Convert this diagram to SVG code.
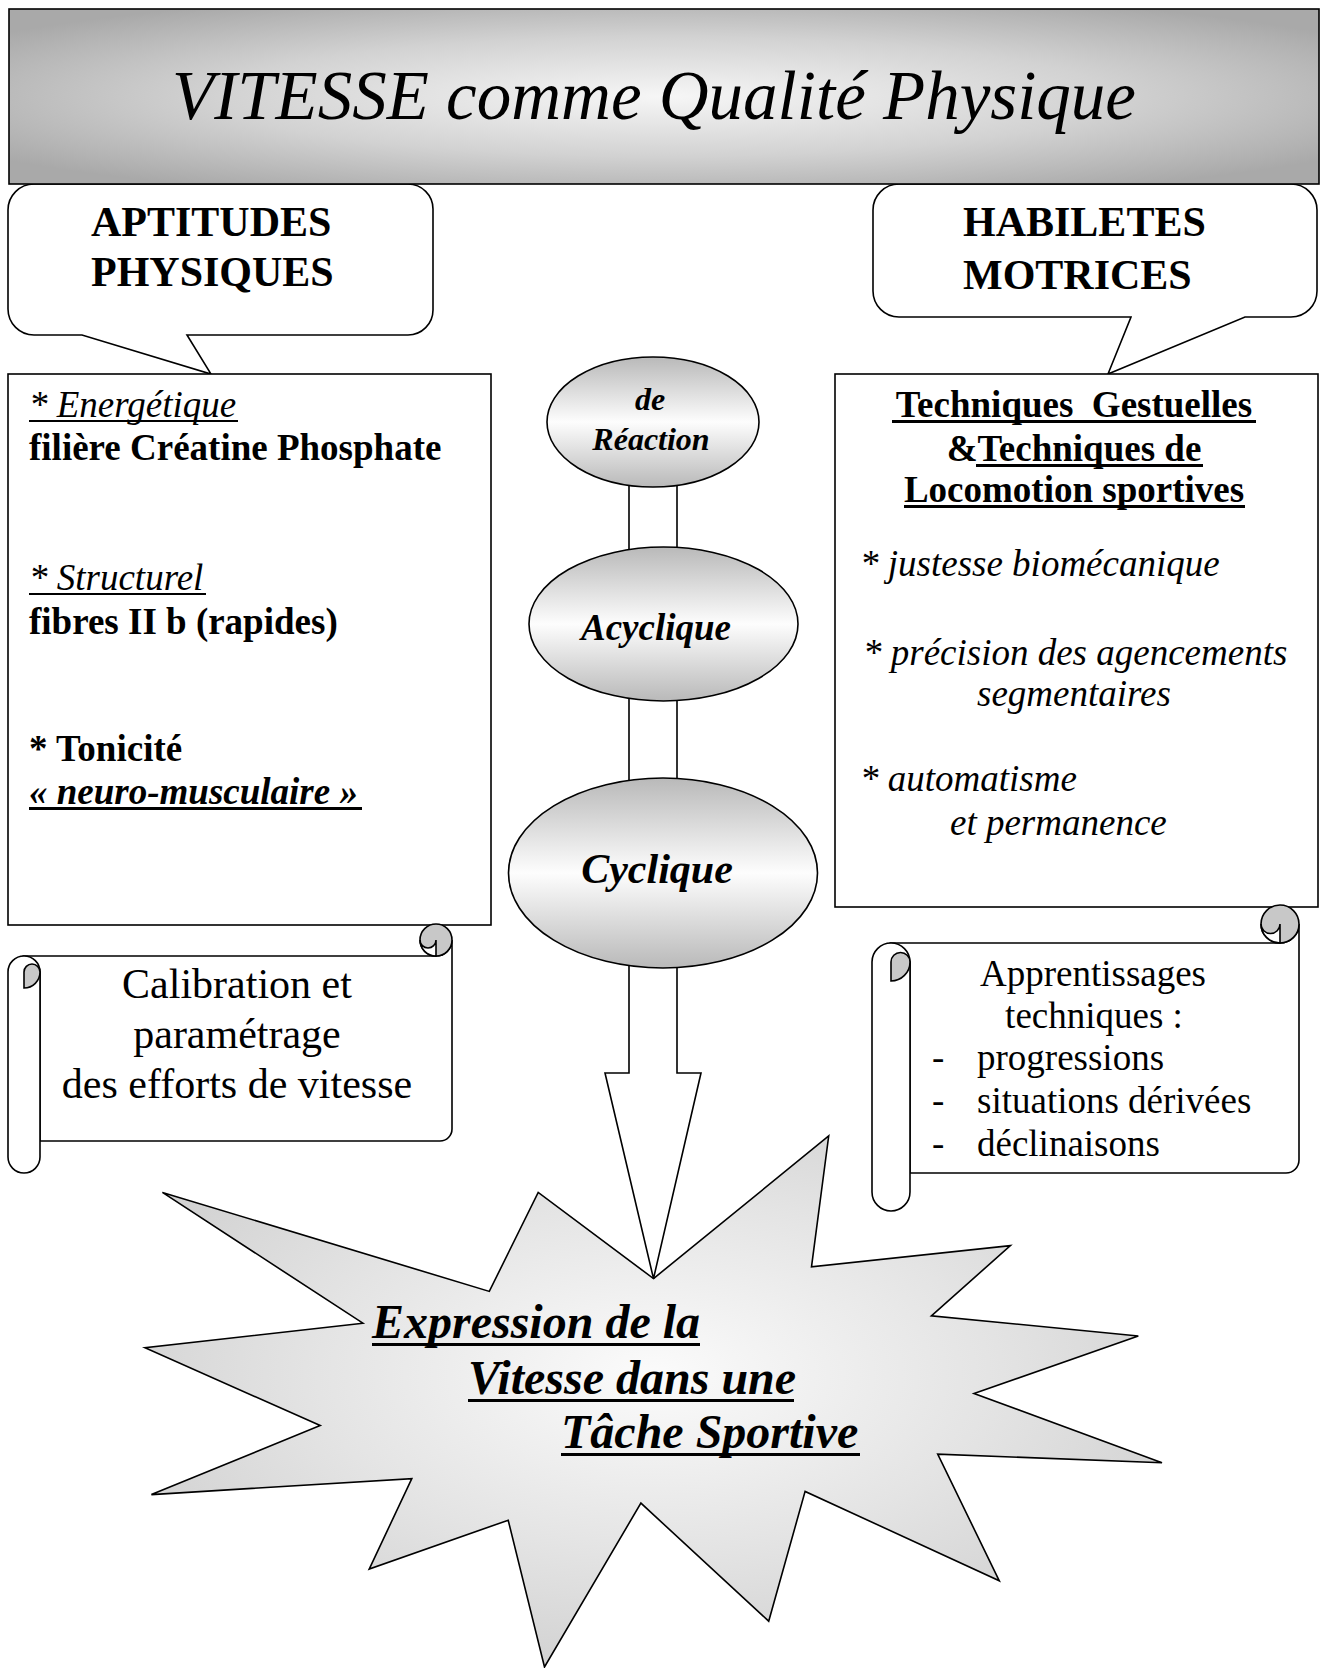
<svg xmlns="http://www.w3.org/2000/svg" width="1325" height="1668" viewBox="0 0 1325 1668">
  <defs>
    <radialGradient id="gTitle" cx="0.5" cy="0.5" r="0.62">
      <stop offset="0" stop-color="#f6f6f6"/>
      <stop offset="0.55" stop-color="#d2d2d2"/>
      <stop offset="1" stop-color="#a9a9a9"/>
    </radialGradient>
    <linearGradient id="gOval" x1="0" y1="0" x2="0" y2="1">
      <stop offset="0" stop-color="#b9b9b9"/>
      <stop offset="0.5" stop-color="#fdfdfd"/>
      <stop offset="1" stop-color="#b9b9b9"/>
    </linearGradient>
    <radialGradient id="gStar" cx="0.5" cy="0.45" r="0.55">
      <stop offset="0" stop-color="#fbfbfb"/>
      <stop offset="0.6" stop-color="#e4e4e4"/>
      <stop offset="1" stop-color="#d3d3d3"/>
    </radialGradient>
    <style>
      .ln { stroke: #000; stroke-width: 1.6; fill: #fff; stroke-linejoin: miter; }
      .curl { stroke: #000; stroke-width: 1.6; fill: #c8c8c8; }
      .t { font-family: "Liberation Serif", "Times New Roman", serif; fill: #000; }
      .b { font-weight: bold; }
      .i { font-style: italic; }
      .s37 { font-size: 37px; }
      .s42 { font-size: 42px; }
      .mid { text-anchor: middle; }
      .ul { fill: #000; }
    </style>
  </defs>

  <!-- speech bubbles (drawn under the title banner) -->
  <g id="bubble-aptitudes">
    <path class="ln" d="M34,184 L408,184 A25,25 0 0 1 433,209 L433,310 A25,25 0 0 1 408,335 L187,335 L211,374 L82,335 L34,335 A26,26 0 0 1 8,309 L8,210 A26,26 0 0 1 34,184 Z"/>
    <text class="t b s42" x="91" y="236">APTITUDES</text>
    <text class="t b s42" x="91" y="286">PHYSIQUES</text>
  </g>
  <g id="bubble-habiletes">
    <path class="ln" d="M899,184 L1291,184 A26,26 0 0 1 1317,210 L1317,291 A26,26 0 0 1 1291,317 L1245,317 L1108,374 L1131,317 L899,317 A26,26 0 0 1 873,291 L873,210 A26,26 0 0 1 899,184 Z"/>
    <text class="t b s42" x="963" y="236">HABILETES</text>
    <text class="t b s42" x="963" y="289">MOTRICES</text>
  </g>

  <!-- title banner -->
  <g id="title">
    <rect x="9" y="9" width="1310" height="175" fill="url(#gTitle)" stroke="#000" stroke-width="1.6"/>
    <text class="t i mid" x="654" y="119" font-size="69">VITESSE comme Qualité Physique</text>
  </g>

  <!-- physical aptitudes box -->
  <g id="box-aptitudes">
    <rect class="ln" x="8" y="374" width="483" height="551"/>
    <text class="t i s37" x="29" y="417">* Energétique</text>
    <rect class="ul" x="29" y="420" width="209" height="2"/>
    <text class="t b s37" x="29" y="460">filière Créatine Phosphate</text>
    <text class="t i s37" x="29" y="590">* Structurel</text>
    <rect class="ul" x="29" y="593" width="177" height="2"/>
    <text class="t b s37" x="29" y="634">fibres II b (rapides)</text>
    <text class="t b s37" x="29" y="761">* Tonicité</text>
    <text class="t b i s37" x="29" y="804">« neuro-musculaire »</text>
    <rect class="ul" x="29" y="807" width="333" height="3"/>
  </g>

  <!-- motor skills box -->
  <g id="box-habiletes">
    <rect class="ln" x="835" y="374" width="483" height="533"/>
    <text class="t b s37 mid" x="1074" y="417">Techniques&#160; Gestuelles</text>
    <rect class="ul" x="892" y="420" width="364" height="3"/>
    <text class="t b s37 mid" x="1074" y="461">&amp;Techniques de</text>
    <rect class="ul" x="976" y="464" width="227" height="3"/>
    <text class="t b s37 mid" x="1074" y="502">Locomotion sportives</text>
    <rect class="ul" x="904" y="505" width="341" height="3"/>
    <text class="t i s37" x="860" y="576">* justesse biomécanique</text>
    <text class="t i s37" x="863" y="665">* précision des agencements</text>
    <text class="t i s37" x="977" y="706">segmentaires</text>
    <text class="t i s37" x="860" y="791">* automatisme</text>
    <text class="t i s37" x="950" y="835">et permanence</text>
  </g>

  <!-- connectors between the speed ovals and the arrow to the star -->
  <g id="connectors">
    <rect class="ln" x="629" y="470" width="48" height="90"/>
    <rect class="ln" x="629" y="690" width="48" height="100"/>
  </g>

  <!-- bursting star -->
  <g id="star-expression">
    <polygon class="ln" fill="url(#gStar)" style="fill:url(#gStar)" points="653.5,1278.6 828.7,1136 811.5,1266.9 1010.4,1245.6 931.4,1315.8 1138.3,1336 974,1393.5 1162,1462.7 937.7,1454.2 999.3,1580.8 805.1,1491.4 768.7,1621.2 640.9,1503.1 544.5,1667 508.2,1520.2 369.2,1569.1 411.8,1478.6 151.4,1494.6 320.2,1425.5 145,1347.8 362.9,1323.2 162.4,1192.4 489.3,1291.4 538.2,1192.4"/>
    <text class="t b i" font-size="48" x="372" y="1338">Expression de la</text>
    <rect class="ul" x="372" y="1343" width="328" height="3"/>
    <text class="t b i" font-size="48" x="468" y="1394">Vitesse dans une</text>
    <rect class="ul" x="468" y="1399" width="326" height="3"/>
    <text class="t b i" font-size="48" x="561" y="1448">Tâche Sportive</text>
    <rect class="ul" x="561" y="1453" width="299" height="3"/>
  </g>

  <g id="arrow-down">
    <path class="ln" d="M629,950 L629,1073 L605,1073 L653.5,1278.6 L701,1073 L677,1073 L677,950 Z"/>
  </g>

  <!-- speed ovals -->
  <g id="oval-reaction">
    <ellipse class="ln" style="fill:url(#gOval)" cx="653" cy="422" rx="106" ry="65"/>
    <text class="t b i mid" font-size="32" x="650" y="410">de</text>
    <text class="t b i mid" font-size="32" x="651" y="450">Réaction</text>
  </g>
  <g id="oval-acyclique">
    <ellipse class="ln" style="fill:url(#gOval)" cx="663.5" cy="624" rx="134.5" ry="77"/>
    <text class="t b i mid" font-size="37" x="656" y="640">Acyclique</text>
  </g>
  <g id="oval-cyclique">
    <ellipse class="ln" style="fill:url(#gOval)" cx="663" cy="873" rx="154.5" ry="95"/>
    <text class="t b i mid" font-size="42" x="657" y="883">Cyclique</text>
  </g>

  <!-- left scroll -->
  <g id="scroll-calibration">
    <path class="ln" d="M24,956 L436,956 A16,16 0 0 0 452,940 L452,1129 A12,12 0 0 1 440,1141 L40,1141 L40,972 Z"/>
    <circle class="curl" cx="436" cy="940" r="16"/>
    <path class="ln" d="M436,956 L436,940 A8,8 0 0 1 420,940 A16,16 0 0 0 436,956 Z"/>
    <path class="ln" d="M8,972 A16,16 0 0 1 40,972 L40,1157 A16,16 0 0 1 8,1157 Z"/>
    <path class="curl" d="M24,988 L24,972 A8,8 0 0 1 40,972 A16,16 0 0 1 24,988 Z"/>
    <text class="t s42 mid" x="237" y="998">Calibration et</text>
    <text class="t s42 mid" x="237" y="1048">paramétrage</text>
    <text class="t s42 mid" x="237" y="1098">des efforts de vitesse</text>
  </g>

  <!-- right scroll -->
  <g id="scroll-apprentissages">
    <path class="ln" d="M891,943 L1280,943 A19,19 0 0 0 1299,924 L1299,1160 A13,13 0 0 1 1286,1173 L910,1173 L910,962 Z"/>
    <circle class="curl" cx="1280" cy="924" r="19"/>
    <path class="ln" d="M1280,943 L1280,924 A9.5,9.5 0 0 1 1261,924 A19,19 0 0 0 1280,943 Z"/>
    <path class="ln" d="M872,962 A19,19 0 0 1 910,962 L910,1192 A19,19 0 0 1 872,1192 Z"/>
    <path class="curl" d="M891,981 L891,962 A9.5,9.5 0 0 1 910,962 A19,19 0 0 1 891,981 Z"/>
    <text class="t s37 mid" x="1093" y="986">Apprentissages</text>
    <text class="t s37 mid" x="1094" y="1028">techniques :</text>
    <text class="t s37" x="932" y="1070">-</text>
    <text class="t s37" x="977" y="1070">progressions</text>
    <text class="t s37" x="932" y="1113">-</text>
    <text class="t s37" x="977" y="1113">situations dérivées</text>
    <text class="t s37" x="932" y="1156">-</text>
    <text class="t s37" x="977" y="1156">déclinaisons</text>
  </g>
</svg>
